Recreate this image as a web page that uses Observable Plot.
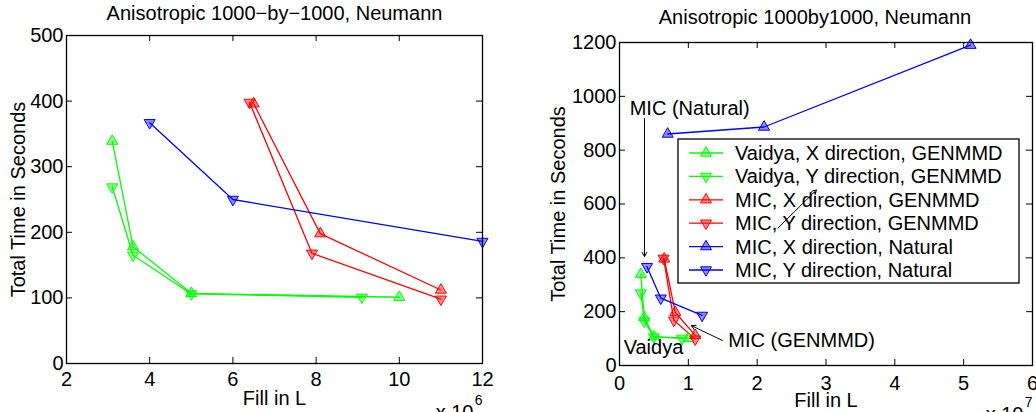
<!DOCTYPE html>
<html><head><meta charset="utf-8">
<script src="https://cdn.jsdelivr.net/npm/d3@7"></script>
<script src="https://cdn.jsdelivr.net/npm/@observablehq/plot@0.6"></script>
<style>
body{margin:0;background:#fff;}
#wrap{position:relative;width:1036px;height:412px;overflow:hidden;}
#left,#right{position:absolute;top:0;}
#left{left:0;width:520px;}
#right{left:520px;width:516px;}
</style></head><body><div id="wrap"><div id="left"></div><div id="right"></div></div>
<script>
// ---- series ----
const names = ["Vaidya, X direction, GENMMD","Vaidya, Y direction, GENMMD","MIC, X direction, GENMMD","MIC, Y direction, GENMMD","MIC, X direction, Natural","MIC, Y direction, Natural"];
const colors = ["#00ff00","#00ff00","#ff0000","#ff0000","#0000ff","#0000ff"];
const pointing = ["up","down","up","down","up","down"];

const vaidyaXFill = [3.1e6, 3.6e6, 5.0e6, 10.0e6];
const vaidyaXTime = [339, 178, 107, 101];
const vaidyaYFill = [3.1e6, 3.6e6, 5.0e6, 9.1e6];
const vaidyaYTime = [269, 165, 106, 101];
const micXGenFill = [6.5e6, 8.1e6, 11.0e6];
const micXGenTime = [396, 198, 112];
const micYGenFill = [6.4e6, 7.9e6, 11.0e6];
const micYGenTime = [398, 168, 98];
const micXNatFill = [7.0e6, 21.0e6, 51.0e6];
const micXNatTime = [860, 886, 1190];
const micYNatFill = [4.0e6, 6.0e6, 12.0e6];
const micYNatTime = [367, 250, 186];

const fills = [vaidyaXFill, vaidyaYFill, micXGenFill, micYGenFill, micXNatFill, micYNatFill];
const times = [vaidyaXTime, vaidyaYTime, micXGenTime, micYGenTime, micXNatTime, micYNatTime];

// ---- axes ----
const leftTitle = "Anisotropic 1000\u2212by\u22121000, Neumann";
const rightTitle = "Anisotropic 1000by1000, Neumann";
const xLabel = "Fill in L";
const yLabel = "Total Time in Seconds";
const leftXTicks = [2e6, 4e6, 6e6, 8e6, 10e6, 12e6];
const leftYTicks = [0, 100, 200, 300, 400, 500];
const rightXTicks = [0, 1e7, 2e7, 3e7, 4e7, 5e7, 6e7];
const rightYTicks = [0, 200, 400, 600, 800, 1000, 1200];
const leftExp = "6";
const rightExp = "7";

// ---- annotations (right panel) ----
const noteText = ["MIC (Natural)", "Vaidya", "MIC (GENMMD)"];
const noteX = [1.02e7, 0.06e7, 1.58e7];
const noteY = [954, 67, 93];
const noteAnchor = ["middle", "start", "start"];
const arrowX1 = [0.363e7, 1.495e7, 2.30e7];
const arrowY1 = [917, 93, 510];
const arrowX2 = [0.363e7, 1.045e7, 2.86e7];
const arrowY2 = [405, 148, 652];

const font = "'Liberation Sans', Arial, Helvetica, sans-serif";

function rowsFor(idx) {
  const rows = [];
  for (const i of idx) fills[i].forEach((f, j) => rows.push({series: names[i], fill: f, time: times[i][j], dir: pointing[i]}));
  return rows;
}

function frameTicks(xt, yt, innerW, innerH, len) {
  return [
    Plot.tickX(xt, {x: d => d, insetTop: innerH - len, stroke: "black", strokeWidth: 1}),
    Plot.tickX(xt, {x: d => d, insetBottom: innerH - len, stroke: "black", strokeWidth: 1}),
    Plot.tickY(yt, {y: d => d, insetRight: innerW - len, stroke: "black", strokeWidth: 1}),
    Plot.tickY(yt, {y: d => d, insetLeft: innerW - len, stroke: "black", strokeWidth: 1})
  ];
}

function dataMarks(rows) {
  return [
    Plot.line(rows, {x: "fill", y: "time", z: "series", stroke: "series", strokeWidth: 1.3}),
    Plot.dot(rows, {x: "fill", y: "time", symbol: "triangle", r: 4.1,
      rotate: d => d.dir === "down" ? 180 : 0,
      stroke: "series", fill: "series", fillOpacity: 0.45, strokeWidth: 1})
  ];
}

function legendMark(index, scales, values, dims) {
  const g = d3.create("svg:g");
  const x0 = dims.marginLeft + 59, y0 = dims.marginTop + 97;
  const w = 341, h = 144, rowH = 23.4;
  g.append("rect").attr("x", x0).attr("y", y0).attr("width", w).attr("height", h)
    .attr("fill", "white").attr("stroke", "black").attr("stroke-width", 1.3);
  names.forEach((n, i) => {
    const cy = y0 + 14 + i * rowH;
    g.append("line").attr("x1", x0 + 11).attr("x2", x0 + 45).attr("y1", cy).attr("y2", cy)
      .attr("stroke", colors[i]).attr("stroke-width", 1.3);
    g.append("path").attr("d", d3.symbol(d3.symbolTriangle, 52)())
      .attr("transform", `translate(${x0 + 28},${cy}) rotate(${pointing[i] === "down" ? 180 : 0})`)
      .attr("fill", colors[i]).attr("fill-opacity", 0.45).attr("stroke", colors[i]);
    g.append("text").attr("x", x0 + 57).attr("y", cy).attr("dy", "0.35em")
      .attr("text-anchor", "start").attr("font-size", 20).attr("fill", "black").text(n);
  });
  return g.node();
}

function outerTexts(title, titleDx, titleDy, xlabDy, ylabDx, expText, expDy, baseDy) {
  return [
    Plot.text([title], {text: d => d, frameAnchor: "top", textAnchor: "middle", lineAnchor: "middle", dx: titleDx, dy: titleDy, fontSize: 20}),
    Plot.text([xLabel], {text: d => d, frameAnchor: "bottom", textAnchor: "middle", lineAnchor: "middle", dy: xlabDy, fontSize: 20}),
    Plot.text([yLabel], {text: d => d, frameAnchor: "left", textAnchor: "middle", lineAnchor: "middle", dx: ylabDx, rotate: -90, fontSize: 20}),
    Plot.text(["x 10"], {text: d => d, frameAnchor: "bottom-right", textAnchor: "end", lineAnchor: "middle", dx: -9, dy: baseDy, fontSize: 20}),
    Plot.text([expText], {text: d => d, frameAnchor: "bottom-right", textAnchor: "end", lineAnchor: "middle", dx: 0, dy: expDy, fontSize: 14})
  ];
}

// ---- left chart ----
{
  const W = 520, H = 412, mL = 66, mR = 38, mT = 35, mB = 49;
  const iW = W - mL - mR, iH = H - mT - mB;
  const rows = rowsFor([0, 1, 2, 3, 5]);
  const chart = Plot.plot({
    width: W, height: H, marginLeft: mL, marginRight: mR, marginTop: mT, marginBottom: mB,
    style: {fontFamily: font, fontSize: "20px", background: "white", color: "black", overflow: "visible"},
    x: {domain: [2e6, 12e6]},
    y: {domain: [0, 500]},
    color: {domain: names, range: colors},
    marks: [
      ...dataMarks(rows),
      Plot.axisX({ticks: leftXTicks, tickSize: 0, tickPadding: 8, tickFormat: d => String(d / 1e6), label: null, fontSize: 20}),
      Plot.axisY({ticks: leftYTicks, tickSize: 0, tickPadding: 3, tickFormat: d => String(d), label: null, fontSize: 20}),
      ...frameTicks(leftXTicks, leftYTicks, iW, iH, 6),
      Plot.frame({stroke: "black", strokeWidth: 1.3}),
      ...outerTexts(leftTitle, 0, -22, 35, -48, leftExp, 37, 49)
    ]
  });
  document.getElementById("left").append(chart);
}

// ---- right chart ----
{
  const W = 516, H = 412, mL = 99, mR = 4, mT = 42, mB = 47;
  const iW = W - mL - mR, iH = H - mT - mB;
  const rows = rowsFor([0, 1, 2, 3, 4, 5]);
  const notes = noteText.map((t, i) => ({t, x: noteX[i], y: noteY[i], a: noteAnchor[i]}));
  const arrows = arrowX1.map((x1, i) => ({x1, y1: arrowY1[i], x2: arrowX2[i], y2: arrowY2[i]}));
  const chart = Plot.plot({
    width: W, height: H, marginLeft: mL, marginRight: mR, marginTop: mT, marginBottom: mB,
    style: {fontFamily: font, fontSize: "20px", background: "white", color: "black", overflow: "visible"},
    x: {domain: [0, 6e7]},
    y: {domain: [0, 1200]},
    color: {domain: names, range: colors},
    marks: [
      ...dataMarks(rows),
      legendMark,
      Plot.text(notes.filter(d => d.a === "middle"), {x: "x", y: "y", text: "t", textAnchor: "middle", lineAnchor: "middle", fontSize: 20}),
      Plot.text(notes.filter(d => d.a === "start"), {x: "x", y: "y", text: "t", textAnchor: "start", lineAnchor: "middle", fontSize: 20}),
      Plot.arrow(arrows, {x1: "x1", y1: "y1", x2: "x2", y2: "y2", stroke: "black", strokeWidth: 1, headLength: 7}),
      Plot.axisX({ticks: rightXTicks, tickSize: 0, tickPadding: 10, tickFormat: d => String(d / 1e7), label: null, fontSize: 20}),
      Plot.axisY({ticks: rightYTicks, tickSize: 0, tickPadding: 3, tickFormat: d => String(d), label: null, fontSize: 20}),
      ...frameTicks(rightXTicks, rightYTicks, iW, iH, 6),
      Plot.frame({stroke: "black", strokeWidth: 1.3}),
      ...outerTexts(rightTitle, -11, -25, 35, -61, rightExp, 37, 49)
    ]
  });
  document.getElementById("right").append(chart);
}
</script>
</body></html>
